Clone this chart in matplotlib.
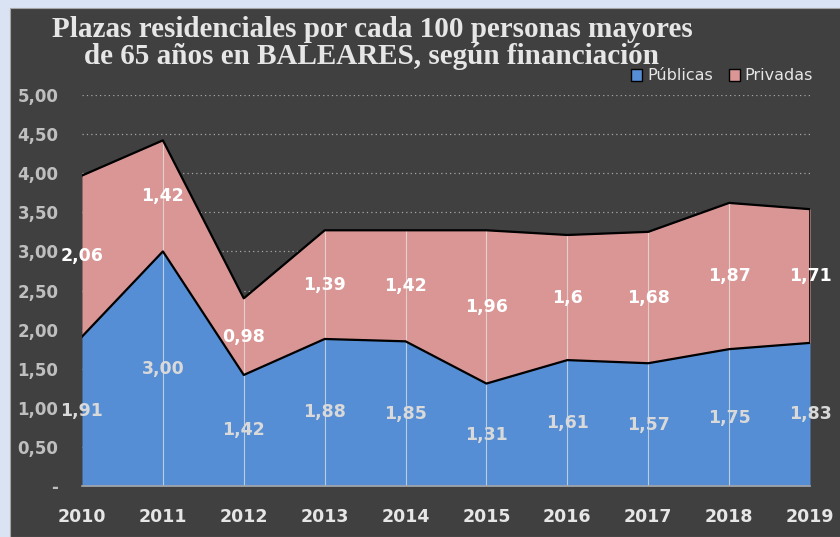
import matplotlib.pyplot as plt
from matplotlib.patches import Rectangle

years = [2010, 2011, 2012, 2013, 2014, 2015, 2016, 2017, 2018, 2019]
publicas = [1.91, 3.00, 1.42, 1.88, 1.85, 1.31, 1.61, 1.57, 1.75, 1.83]
privadas = [2.06, 1.42, 0.98, 1.39, 1.42, 1.96, 1.60, 1.68, 1.87, 1.71]
priv_labels = ['2,06', '1,42', '0,98', '1,39', '1,42', '1,96', '1,6', '1,68', '1,87', '1,71']
y_ticks = [0, 0.5, 1, 1.5, 2, 2.5, 3, 3.5, 4, 4.5, 5]

blue = '#558ed5'
pink = '#d99694'
bg = '#404040'

fig = plt.figure(figsize=(8.4, 5.37), dpi=100)
fig.patch.set_facecolor('#dae3f3')
panel = Rectangle((10 / 840, 0), 1, 1 - 8 / 537, transform=fig.transFigure,
                  facecolor=bg, edgecolor='#a6a6a6', linewidth=0.8, zorder=-5)
fig.add_artist(panel)

ax = fig.add_axes([82 / 840, 1 - 486 / 537, (810 - 82) / 840, (486 - 95) / 537])
ax.patch.set_alpha(0)

total = [a + b for a, b in zip(publicas, privadas)]

# Stacked areas
ax.fill_between(years, 0, publicas, color=blue, linewidth=0, zorder=2, label='Públicas')
ax.fill_between(years, publicas, total, color=pink, linewidth=0, zorder=2, label='Privadas')
ax.plot(years, publicas, color='black', linewidth=1.6, zorder=4)
ax.plot(years, total, color='black', linewidth=1.6, zorder=4)
ax.plot([years[-1], years[-1]], [publicas[-1], total[-1]], color='black', linewidth=1.2, zorder=4)

# Drop lines
ax.vlines(years[1:-1], 0, total[1:-1], color='#e8e8e8', linewidth=0.8, alpha=0.7, zorder=3)

# Grid
for t in y_ticks[1:]:
    ax.axhline(t, color='#a6a6a6', linestyle=(0, (1, 2.5)), linewidth=0.9, zorder=1)

# Data labels
for x, p, q, ql in zip(years, publicas, privadas, priv_labels):
    ax.text(x, p / 2, f'{p:.2f}'.replace('.', ','), ha='center', va='center',
            color='#d9d9d9', fontsize=12.5, fontweight='bold', zorder=5)
    ax.text(x, p + q / 2, ql, ha='center', va='center',
            color='white', fontsize=12.5, fontweight='bold', zorder=5)

ax.set_xlim(2010, 2019)
ax.set_ylim(0, 5)
ax.set_xticks(years)
ax.set_xticklabels([str(y) for y in years], color='#e6e6e6', fontsize=12.5, fontweight='bold')
ax.set_yticks(y_ticks)
ax.set_yticklabels(['-'] + [f'{t:.2f}'.replace('.', ',') for t in y_ticks[1:]],
                   color='#bfbfbf', fontsize=12, fontweight='bold')
ax.tick_params(axis='both', length=0)
ax.tick_params(axis='x', pad=16)
ax.tick_params(axis='y', pad=17)
for s in ['top', 'right', 'left']:
    ax.spines[s].set_visible(False)
ax.spines['bottom'].set_color('#a6a6a6')
ax.spines['bottom'].set_linewidth(1.2)
ax.spines['bottom'].set_zorder(6)

fig.text(372 / 840, 1 - 43 / 537,
         'Plazas residenciales por cada 100 personas mayores\nde 65 años en BALEARES, según financiación',
         ha='center', va='center', color='#e6e6e6', fontsize=21, fontweight='bold',
         family='Liberation Serif', linespacing=1.0)

leg = fig.legend(loc='center', bbox_to_anchor=(722 / 840, 1 - 76 / 537), ncol=2, frameon=False,
                 fontsize=11.5, handlelength=0.7, handleheight=0.7, handletextpad=0.3,
                 columnspacing=1.0, labelcolor='#e6e6e6')
for h in leg.legend_handles:
    h.set_edgecolor('black')
    h.set_linewidth(1.0)

fig.savefig('out.png', dpi=100, facecolor=fig.get_facecolor())
